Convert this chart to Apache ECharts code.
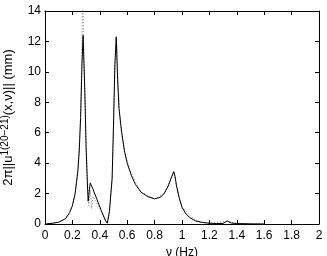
<!DOCTYPE html>
<html>
<head>
<meta charset="utf-8">
<script src="https://cdn.jsdelivr.net/npm/echarts@6/dist/echarts.min.js"></script>
<style>
  * { margin: 0; padding: 0; }
  body { background: #fff; }
  #chart { width: 327px; height: 256px; }
</style>
</head>
<body>
<div id="chart"></div>
<script>
// frequency (Hz) and amplitude (mm), solid curve
const nu = [0, 0.05, 0.10, 0.15, 0.18, 0.20, 0.22, 0.24, 0.25, 0.26, 0.27, 0.278, 0.29, 0.30, 0.31, 0.315,
  0.32, 0.33, 0.35, 0.38, 0.41, 0.44, 0.455, 0.47, 0.49, 0.50, 0.51, 0.52, 0.53, 0.54, 0.56, 0.58, 0.60,
  0.63, 0.66, 0.70, 0.75, 0.80, 0.84, 0.87, 0.90, 0.92, 0.94, 0.95, 0.96, 0.98, 1.00, 1.03, 1.06, 1.10,
  1.15, 1.20, 1.25, 1.30, 1.33, 1.36, 1.40, 1.50, 1.60];
const amp = [0, 0.04, 0.12, 0.35, 0.75, 1.2, 2.0, 3.5, 4.8, 7.0, 10.5, 12.4, 9.0, 5.0, 2.5, 1.5,
  1.6, 2.7, 2.3, 1.6, 0.9, 0.25, 0.05, 0.8, 3.0, 6.5, 10.5, 12.3, 9.5, 7.6, 6.0, 4.8, 4.0,
  3.2, 2.6, 2.1, 1.8, 1.65, 1.75, 2.0, 2.5, 3.0, 3.45, 3.1, 2.5, 1.7, 1.1, 0.65, 0.4, 0.2,
  0.1, 0.05, 0.03, 0.04, 0.2, 0.06, 0.03, 0.01, 0.0];

// dotted comparison curve
const nuDot = [0, 0.10, 0.15, 0.20, 0.22, 0.24, 0.26, 0.27, 0.275, 0.285, 0.30, 0.31, 0.32, 0.33, 0.34,
  0.35, 0.37, 0.40, 0.44, 0.455, 0.47, 0.49, 0.50, 0.51, 0.525, 0.535, 0.55, 0.58, 0.62, 0.70, 0.80,
  0.87, 0.92, 0.94, 0.96, 1.00, 1.10, 1.20, 1.33, 1.40, 1.60];
const ampDot = [0, 0.12, 0.35, 1.2, 2.0, 3.5, 7.2, 12.0, 15.0, 10.5, 5.5, 2.8, 1.2, 2.2, 1.0,
  1.8, 1.5, 1.0, 0.3, 0.05, 0.8, 3.0, 6.3, 10.0, 11.8, 9.0, 6.5, 4.8, 3.5, 2.1, 1.65,
  2.0, 3.0, 3.4, 2.5, 1.1, 0.2, 0.05, 0.18, 0.03, 0.0];

const xTicks = ['0', '0.2', '0.4', '0.6', '0.8', '1', '1.2', '1.4', '1.6', '1.8', '2'];

const font = 'Liberation Sans, Arial, sans-serif';
const chart = echarts.init(document.getElementById('chart'));

const baseAxis = {
  type: 'value',
  axisLine: { show: true, onZero: false, lineStyle: { color: '#000', width: 1 } },
  axisTick: { show: true, inside: true, length: 4, lineStyle: { color: '#000' } },
  splitLine: { show: false }
};

chart.setOption({
  animation: false,
  backgroundColor: '#fff',
  grid: { left: 45, right: 8, top: 11, bottom: 32, containLabel: false, outerBoundsMode: 'none' },
  xAxis: [
    Object.assign({}, baseAxis, {
      min: 0, max: 2, interval: 0.2,
      name: 'ν (Hz)', nameLocation: 'middle', nameGap: 18,
      nameTextStyle: { color: '#000', fontSize: 12, fontFamily: font },
      axisLabel: {
        color: '#000', fontSize: 12, fontFamily: font, margin: 6,
        formatter: (v) => xTicks[Math.round(v / 0.2)]
      }
    }),
    Object.assign({}, baseAxis, {
      min: 0, max: 2, interval: 0.2, position: 'top',
      axisLabel: { show: false }
    })
  ],
  yAxis: [
    Object.assign({}, baseAxis, {
      min: 0, max: 14, interval: 2,
      name: '{n|2π||u}{s|1(20−21)}{n|(x,ν)|| (mm)}',
      nameLocation: 'middle', nameGap: 28,
      nameTextStyle: {
        color: '#000', fontSize: 13, fontFamily: font,
        rich: {
          n: { color: '#000', fontSize: 13, fontFamily: font },
          s: { color: '#000', fontSize: 10, fontFamily: font, padding: [0, 0, 7, 0] }
        }
      },
      axisLabel: { color: '#000', fontSize: 12, fontFamily: font, margin: 4 }
    }),
    Object.assign({}, baseAxis, {
      min: 0, max: 14, interval: 2, position: 'right',
      axisLabel: { show: false }
    })
  ],
  series: [
    {
      type: 'line',
      data: nuDot.map((x, i) => [x, ampDot[i]]),
      showSymbol: false,
      clip: true,
      lineStyle: { color: '#777', width: 1, type: [1, 2] },
      z: 2
    },
    {
      type: 'line',
      data: nu.map((x, i) => [x, amp[i]]),
      showSymbol: false,
      clip: true,
      lineStyle: { color: '#000', width: 1 },
      z: 3
    }
  ]
});
</script>
</body>
</html>
